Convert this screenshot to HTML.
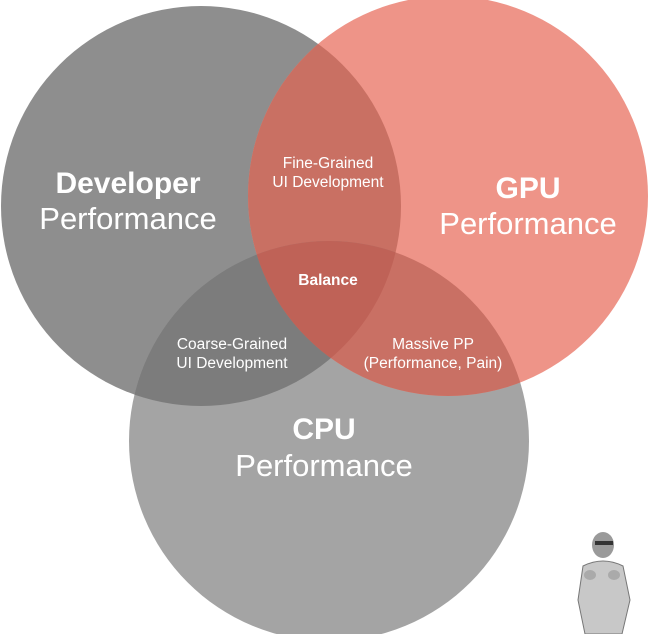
<!DOCTYPE html>
<html><head><style>
html,body{margin:0;padding:0;background:#fff;}
svg{display:block;}
text{font-family:"Liberation Sans",Arial,sans-serif;fill:#fff;text-anchor:middle;}
</style></head><body>
<svg width="649" height="634" viewBox="0 0 649 634">
<defs>
<clipPath id="cd"><circle cx="201" cy="206" r="200"/></clipPath>
<clipPath id="cg"><circle cx="448" cy="196" r="200"/></clipPath>
<clipPath id="cc"><circle cx="329" cy="441" r="200"/></clipPath>
</defs>
<circle cx="201" cy="206" r="200" fill="#8e8e8e"/>
<circle cx="329" cy="441" r="200" fill="#a4a4a4"/>
<circle cx="448" cy="196" r="200" fill="#ee9488"/>
<circle cx="448" cy="196" r="200" fill="#c97063" clip-path="url(#cd)"/>
<circle cx="201" cy="206" r="200" fill="#7c7c7c" clip-path="url(#cc)"/>
<circle cx="329" cy="441" r="200" fill="#c97064" clip-path="url(#cg)"/>
<g clip-path="url(#cd)"><circle cx="448" cy="196" r="200" fill="#bf6257" clip-path="url(#cc)"/></g>

<text x="128" y="193" font-size="30" font-weight="bold">Developer</text>
<text x="128" y="229" font-size="31">Performance</text>
<text x="528" y="198" font-size="30" font-weight="bold">GPU</text>
<text x="528" y="234" font-size="31">Performance</text>
<text x="324" y="439" font-size="30" font-weight="bold">CPU</text>
<text x="324" y="476" font-size="31">Performance</text>
<text x="328" y="168" font-size="15.5">Fine-Grained</text>
<text x="328" y="187" font-size="15.5">UI Development</text>
<text x="328" y="285" font-size="15.5" font-weight="bold">Balance</text>
<text x="232" y="349" font-size="15.5">Coarse-Grained</text>
<text x="232" y="368" font-size="15.5">UI Development</text>
<text x="433" y="349" font-size="15.5">Massive PP</text>
<text x="433" y="368" font-size="15.5">(Performance, Pain)</text>

<g>
<ellipse cx="603" cy="545" rx="11" ry="13" fill="#9a9a9a"/>
<rect x="595" y="541" width="18" height="4" fill="#333"/>
<path d="M583 566 Q603 556 623 566 L630 600 L622 634 L585 634 L578 600 Z" fill="#c8c8c8" stroke="#777" stroke-width="1"/>
<ellipse cx="590" cy="575" rx="6" ry="5" fill="#aaa"/>
<ellipse cx="614" cy="575" rx="6" ry="5" fill="#aaa"/>
</g>
</svg>
</body></html>
